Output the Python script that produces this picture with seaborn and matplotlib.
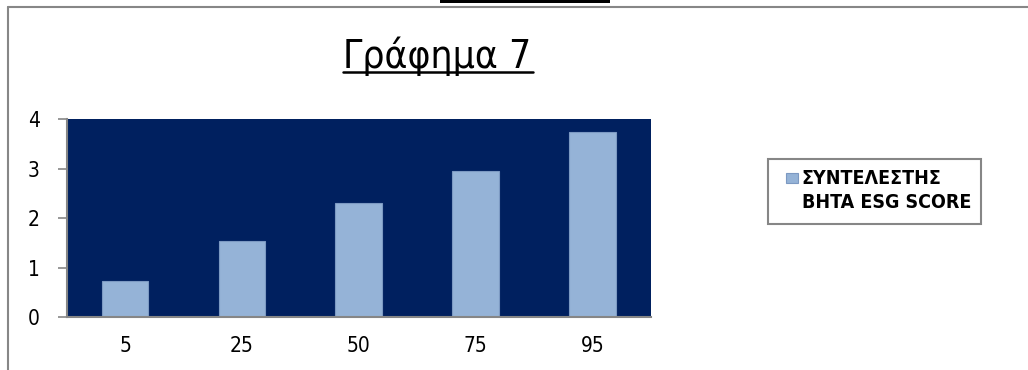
import numpy as np
import pandas as pd
import matplotlib
matplotlib.use("Agg")
import matplotlib.pyplot as plt
from matplotlib.patches import Rectangle
from matplotlib.lines import Line2D
import seaborn as sns

# Chart content
percentiles = ["5", "25", "50", "75", "95"]
beta_esg = [0.73, 1.54, 2.30, 2.94, 3.73]
y_ticks = [0, 1, 2, 3, 4]
series_label = "ΣΥΝΤΕΛΕΣΤΗΣ\nBHTA ESG SCORE"
chart_title = "Γράφημα 7"

sns.set_style("white")
plt.rcParams["font.family"] = ["Liberation Sans Narrow", "DejaVu Sans Condensed", "DejaVu Sans"]
plt.rcParams["font.stretch"] = "condensed"
plt.rcParams["text.color"] = "black"
plt.rcParams["xtick.labelcolor"] = "black"
plt.rcParams["ytick.labelcolor"] = "black"

NAVY = "#00205F"
BAR = "#95B3D7"
BAR_EDGE = "#7C99C2"
GRAY = "#868686"

W, H = 1028, 370
fig = plt.figure(figsize=(W / 100, H / 100), dpi=100)
fig.patch.set_facecolor("white")
ax = fig.add_axes([66.7 / W, 1 - 317 / H, 584 / W, 198 / H])

df = pd.DataFrame({"percentile": percentiles, "beta": beta_esg})
sns.barplot(data=df, x="percentile", y="beta", color=BAR, saturation=1,
            width=0.4, edgecolor=BAR_EDGE, linewidth=0.8,
            label=series_label, ax=ax)

ax.set_facecolor(NAVY)
ax.set_xlim(-0.5, len(percentiles) - 0.5)
ax.set_ylim(0, 4)
ax.set_yticks(y_ticks)
ax.set_xlabel("")
ax.set_ylabel("")
ax.grid(False)

for side in ("top", "right"):
    ax.spines[side].set_visible(False)
for side in ("left", "bottom"):
    ax.spines[side].set_color(GRAY)
    ax.spines[side].set_linewidth(1.5)

# tick marks sit between categories, labels at the centres
ax.set_xticks(np.arange(-0.5, len(percentiles), 1.0), minor=True)
ax.tick_params(axis="x", which="major", length=0, pad=14, labelsize=15)
ax.tick_params(axis="x", which="minor", length=4, width=1.2, color=GRAY, direction="out")
ax.tick_params(axis="y", which="major", length=6.5, width=1.2, color=GRAY,
               direction="out", pad=13, labelsize=15)
ax.tick_params(left=True, bottom=True)

# legend, with a hand-drawn frame around it
leg = ax.legend(loc="upper left", bbox_to_anchor=(786 / W, 1 - 169 / H),
                bbox_transform=fig.transFigure, frameon=False,
                prop={"weight": "bold", "size": 14},
                handlelength=0.6, handleheight=0.48, handletextpad=0.2,
                borderpad=0, borderaxespad=0)
leg.get_texts()[0].set_linespacing(1.35)
handle = leg.legend_handles[0]
handle.set_y(handle.get_y() + 9.5)
fig.add_artist(Rectangle((768 / W, 1 - 224 / H), 213 / W, 65 / H,
                         transform=fig.transFigure, fill=False,
                         edgecolor=GRAY, linewidth=1.5))

# outer frame and the dark tab at the top edge
fig.add_artist(Line2D([8 / W, 8 / W], [0, 1 - 7 / H], transform=fig.transFigure,
                      color="#878787", linewidth=1.5))
fig.add_artist(Line2D([8 / W, 1], [1 - 7 / H, 1 - 7 / H], transform=fig.transFigure,
                      color="#878787", linewidth=1.5))
fig.add_artist(Rectangle((440 / W, 1 - 3.3 / H), 170 / W, 3.3 / H,
                         transform=fig.transFigure, color="black", linewidth=0))

# underlined title
title = fig.text(437 / W, 1 - 68 / H, chart_title, ha="center", va="baseline",
                 fontsize=28, color="black")
fig.canvas.draw()
bb = title.get_window_extent()
fig.add_artist(Line2D([bb.x0 / fig.bbox.width, (bb.x1 + 2) / fig.bbox.width],
                      [1 - 72 / H, 1 - 72 / H], transform=fig.transFigure,
                      color="black", linewidth=1.8))

fig.savefig("out.png", dpi=100)
